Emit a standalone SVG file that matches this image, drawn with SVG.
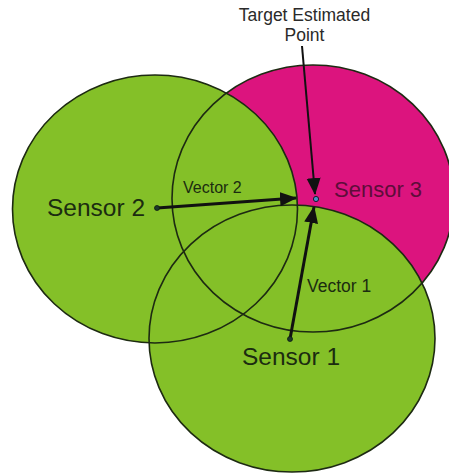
<svg xmlns="http://www.w3.org/2000/svg" width="449" height="474" viewBox="0 0 449 474">
<style>
  .fillg { fill: #84c028; }
  .fillm { fill: #dc147e; }
  .outline { fill: none; stroke: #1d2a12; stroke-width: 1.6; }
  .lbl { font-family: "Liberation Sans", Arial, sans-serif; fill: #1b2c10; }
  .vec { stroke: #111; stroke-width: 3; fill: none; marker-end: url(#ah); }
  .ptr { stroke: #111; stroke-width: 2; fill: none; marker-end: url(#ah); }
  .dot { fill: #1d3a2a; stroke: #0d1a10; stroke-width: 0.8; }
</style>
<defs>
  <marker id="ah" markerUnits="userSpaceOnUse" markerWidth="18" markerHeight="15" refX="16" refY="7" orient="auto">
    <path d="M0,0 L17,7 L0,14 Z" fill="#111"/>
  </marker>
</defs>
<rect width="449" height="474" fill="#ffffff"/>
<g id="fills">
  <ellipse class="fillm" cx="313" cy="198.5" rx="141" ry="133.5"/>
  <ellipse class="fillg" cx="155" cy="209" rx="142.5" ry="134"/>
  <ellipse class="fillg" cx="292" cy="338.5" rx="143" ry="133.5"/>
</g>
<g id="sensor3">
  <ellipse class="outline" cx="313" cy="198.5" rx="141" ry="133.5"/>
  <text x="334" y="197" font-size="22" class="lbl" style="fill:#5e0d3a">Sensor 3</text>
</g>
<g id="sensor2">
  <ellipse class="outline" cx="155" cy="209" rx="142.5" ry="134"/>
  <text x="47" y="216" font-size="24.5" class="lbl">Sensor 2</text>
</g>
<g id="sensor1">
  <ellipse class="outline" cx="292" cy="338.5" rx="143" ry="133.5"/>
  <text x="242" y="365" font-size="24.5" class="lbl">Sensor 1</text>
</g>
<g id="connectors">
  <line class="vec" x1="157" y1="208" x2="296" y2="198"/>
  <line class="vec" x1="290" y1="339" x2="314" y2="207"/>
  <line class="ptr" x1="302" y1="46" x2="315" y2="194"/>
</g>
<g id="vector-labels">
  <text x="183" y="193" font-size="16" class="lbl">Vector 2</text>
  <text x="307" y="292" font-size="17.5" class="lbl">Vector 1</text>
</g>
<g id="dots">
  <circle class="dot" cx="157" cy="208" r="2.5"/>
  <circle class="dot" cx="290" cy="339" r="2.5"/>
</g>
<g id="target">
  <circle cx="316" cy="199" r="2.6" fill="#4a8ec8" stroke="#1a1a2a" stroke-width="1"/>
  <text x="304.5" y="21" font-size="17.5" text-anchor="middle" class="lbl" style="fill:#2a2a2a">Target Estimated</text>
  <text x="304.5" y="40.5" font-size="17.5" text-anchor="middle" class="lbl" style="fill:#2a2a2a">Point</text>
</g>
</svg>
